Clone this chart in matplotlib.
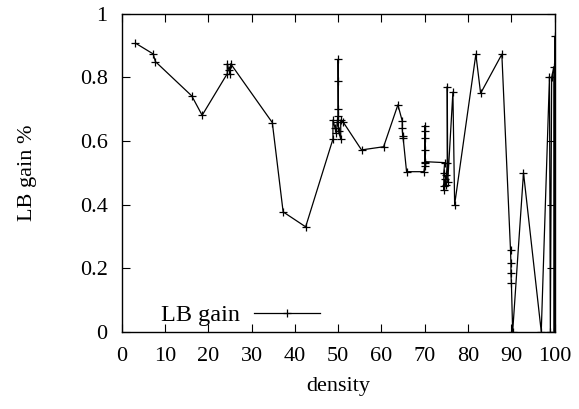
import matplotlib
matplotlib.use("Agg")
import matplotlib.pyplot as plt

density = [3.2, 7.3, 7.8, 16.2, 18.6,
           24.4, 24.4, 24.8, 25.1, 25.2,
           34.8, 37.3, 42.5,
           48.8, 48.8, 49.3, 49.6, 49.8, 50.0, 50.0, 50.0, 50.05, 50.1, 50.6, 50.6, 51.1,
           55.4, 60.5, 63.8,
           64.8, 64.8, 64.9, 65.0, 65.8, 69.8,
           70.0, 70.0, 70.0, 70.0, 70.0, 70.0, 70.1,
           74.6, 74.4, 74.4, 74.4, 74.7, 74.9, 75.0, 75.2, 75.2, 75.3,
           76.5, 76.9, 81.8, 82.9, 87.8,
           89.8, 89.9, 89.9, 90.0, 90.3,
           92.8, 96.9, 98.8, 99.0, 99.3, 99.8, 99.9, 100.0]
gain = [0.908, 0.874, 0.850, 0.742, 0.681,
        0.812, 0.843, 0.822, 0.811, 0.843,
        0.658, 0.377, 0.330,
        0.606, 0.666, 0.640, 0.625, 0.660, 0.680, 0.790, 0.857, 0.700, 0.630, 0.606, 0.666, 0.661,
        0.572, 0.582, 0.714,
        0.663, 0.640, 0.615, 0.611, 0.5035, 0.5035,
        0.521, 0.530, 0.572, 0.611, 0.632, 0.648, 0.535,
        0.532, 0.500, 0.460, 0.447, 0.480, 0.462, 0.493, 0.530, 0.771, 0.470,
        0.754, 0.400, 0.873, 0.750, 0.873,
        0.257, 0.215, 0.184, 0.154, 0.0,
        0.500, 0.0, 0.803, 0.0, 0.800, 0.834, 0.0, 0.929]

x_ticks = [0, 10, 20, 30, 40, 50, 60, 70, 80, 90, 100]
y_ticks = [0, 0.2, 0.4, 0.6, 0.8, 1]
y_tick_labels = ["0", "0.2", "0.4", "0.6", "0.8", "1"]

plt.rcParams['font.family'] = ['Liberation Serif', 'DejaVu Serif']
plt.rcParams['font.size'] = 16

fig = plt.figure(figsize=(5.79, 4.09), dpi=100)
ax = fig.add_axes([0.210, 0.189, 0.748, 0.777])

ax.plot(density, gain, color='black', linewidth=0.9, marker='+', markersize=6,
        markeredgewidth=0.9, label='LB gain')

ax.set_xlim(0, 100)
ax.set_ylim(0, 1)
ax.set_xticks(x_ticks)
ax.set_yticks(y_ticks)
ax.set_yticklabels(y_tick_labels)
ax.tick_params(direction='in', length=6, width=0.8, top=True, right=True,
               labelsize=16)
ax.tick_params(axis='x', pad=11)
ax.tick_params(axis='y', pad=10)
for s in ax.spines.values():
    s.set_linewidth(1.0)

ax.set_xlabel('density', fontsize=16)
ax.set_ylabel('LB gain %', fontsize=16)
ax.xaxis.set_label_coords(0.5, -0.143)
ax.yaxis.set_label_coords(-0.195, 0.5)

ax.legend(loc='lower left', bbox_to_anchor=(0.04, -0.052), frameon=False,
          markerfirst=False, handlelength=2.7, fontsize=17.5, handletextpad=0.6)

fig.savefig('out.png', dpi=100)
